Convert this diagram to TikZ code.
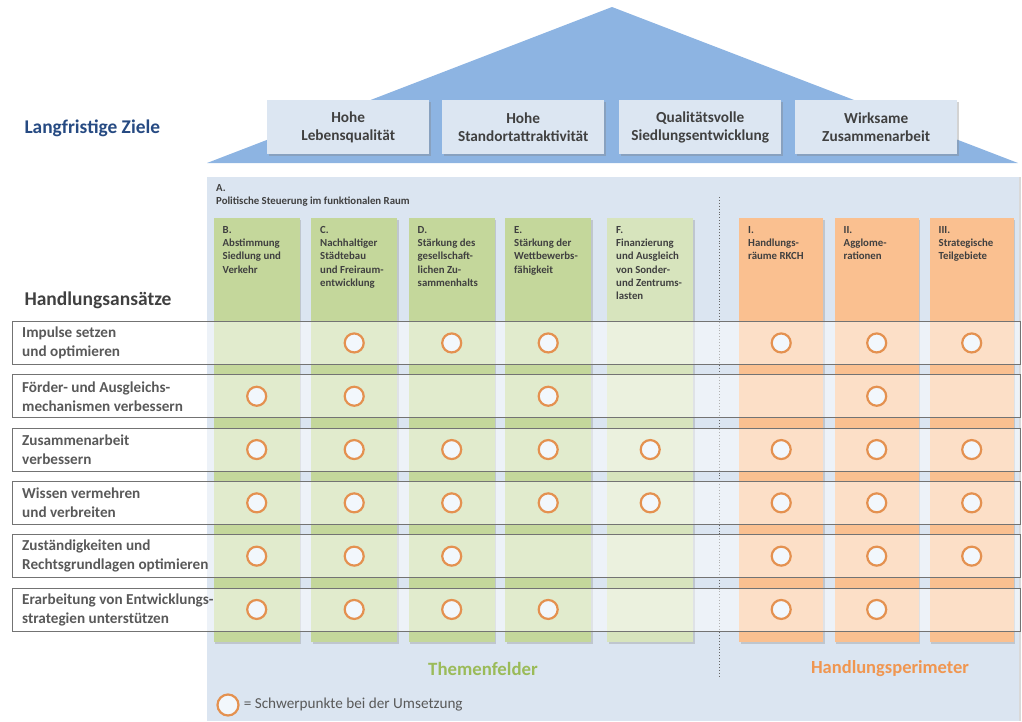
\documentclass[tikz,border=0pt]{standalone}
\usepackage{fontspec}
\setmainfont{Carlito}
\usepackage{xcolor}
\usetikzlibrary{shadows,positioning}

\definecolor{roofblue}{RGB}{141,180,226}
\definecolor{goalfill}{RGB}{220,230,242}
\definecolor{panelblue}{RGB}{219,229,241}
\definecolor{greenhead}{RGB}{196,215,155}
\definecolor{greenlight}{RGB}{215,228,189}
\definecolor{orangehead}{RGB}{250,192,144}
\definecolor{ringorange}{RGB}{228,145,80}
\definecolor{textgrey}{RGB}{64,64,64}
\definecolor{rowgrey}{RGB}{89,89,89}
\definecolor{titleblue}{RGB}{38,74,130}
\definecolor{themagreen}{RGB}{155,187,89}
\definecolor{perimorange}{RGB}{240,150,80}

\tikzset{
	goalbox/.style={anchor=north west, fill=goalfill, minimum width=162pt, minimum height=54pt,
		align=center, text=textgrey, font=\fontsize{15.3}{18}\selectfont\bfseries,
		drop shadow={opacity=0.35, shadow xshift=2pt, shadow yshift=-2pt}},
	colbox/.style={anchor=north west, minimum height=424pt, inner sep=0pt,
		drop shadow={opacity=0.3, shadow xshift=1.5pt, shadow yshift=-1.5pt}},
	colhead/.style={anchor=north west, align=left, inner sep=0pt, text=textgrey,
		font=\fontsize{10.8}{13.3}\selectfont\bfseries},
	rowbox/.style={anchor=north west, draw=gray!90!black, line width=0.9pt, fill=white, fill opacity=0.5,
		minimum width=1008pt, minimum height=43pt, inner sep=0pt},
	rowlabel/.style={anchor=west, align=left, inner sep=0pt, text=rowgrey,
		font=\fontsize{15.2}{19}\selectfont\bfseries},
	ringmark/.style={circle, draw=ringorange, line width=2.2pt, fill={rgb,255:red,242;green,247;blue,252},
		minimum size=19pt, inner sep=0pt}
}

\begin{document}
\begin{tikzpicture}[x=1pt,y=-1pt]
	\useasboundingbox (0,0) rectangle (1022,721);

	% roof and goals
	\fill[roofblue] (207,163) -- (612,7) -- (1018,163) -- cycle;
	\node[text=titleblue, anchor=west, font=\fontsize{19.4}{22}\selectfont\bfseries] (ziele) at (21,128) {Langfristige Ziele};
	\node[goalbox] (goal1) at (267,100) {Hohe\\Lebensqualität};
	\node[goalbox] (goal2) at (442,100) {Hohe\\Standortattraktivität};
	\node[goalbox] (goal3) at (619,100) {Qualitätsvolle\\Siedlungsentwicklung};
	\node[goalbox] (goal4) at (795,100) {Wirksame\\Zusammenarbeit};

	% panel
	\fill[panelblue, drop shadow={opacity=0.3, shadow xshift=1.5pt, shadow yshift=0pt}] (207,177) rectangle (1019,721);
	\node[colhead] (polA) at (216,184) {A.\\Politische Steuerung im funktionalen Raum};
	\draw[dotted, line width=0.9pt, gray!80!black] (719,197) -- (719,677);

	% columns
	\node[colbox, fill=greenhead, minimum width=86pt] (colB) at (213.5,218) {};
	\node[colbox, fill=greenhead, minimum width=86pt] (colC) at (311,218) {};
	\node[colbox, fill=greenhead, minimum width=86pt] (colD) at (408.5,218) {};
	\node[colbox, fill=greenhead, minimum width=86pt] (colE) at (505,218) {};
	\node[colbox, fill=greenlight, minimum width=86pt] (colF) at (607,218) {};
	\node[colbox, fill=orangehead, minimum width=84pt] (colI) at (739,218) {};
	\node[colbox, fill=orangehead, minimum width=84pt] (colII) at (834.5,218) {};
	\node[colbox, fill=orangehead, minimum width=84pt] (colIII) at (929.5,218) {};

	\node[colhead] (headB) at ([shift={(9,8)}]colB.north west) {B.\\Abstimmung\\Siedlung und\\Verkehr};
	\node[colhead] (headC) at ([shift={(9,8)}]colC.north west) {C.\\Nachhaltiger\\Städtebau\\und Freiraum-\\entwicklung};
	\node[colhead] (headD) at ([shift={(9,8)}]colD.north west) {D.\\Stärkung des\\gesellschaft-\\lichen Zu-\\sammenhalts};
	\node[colhead] (headE) at ([shift={(9,8)}]colE.north west) {E.\\Stärkung der\\Wettbewerbs-\\fähigkeit};
	\node[colhead] (headF) at ([shift={(9,8)}]colF.north west) {F.\\Finanzierung\\und Ausgleich\\von Sonder-\\und Zentrums-\\lasten};
	\node[colhead] (headI) at ([shift={(9,8)}]colI.north west) {I.\\Handlungs-\\räume RKCH};
	\node[colhead] (headII) at ([shift={(9,8)}]colII.north west) {II.\\Agglome-\\rationen};
	\node[colhead] (headIII) at ([shift={(9,8)}]colIII.north west) {III.\\Strategische\\Teilgebiete};

	% rows
	\node[text=textgrey, anchor=west, font=\fontsize{19.5}{22}\selectfont\bfseries] (ansaetze) at (21,300) {Handlungsansätze};
	\node[rowbox] (row1) at (12,321) {};
	\node[rowbox] (row2) at (12,374.3) {};
	\node[rowbox] (row3) at (12,427.6) {};
	\node[rowbox] (row4) at (12,480.9) {};
	\node[rowbox] (row5) at (12,534.2) {};
	\node[rowbox] (row6) at (12,587.5) {};
	\node[rowlabel] (lab1) at ([xshift=10pt]row1.west) {Impulse setzen\\und optimieren};
	\node[rowlabel] (lab2) at ([xshift=10pt]row2.west) {Förder- und Ausgleichs-\\mechanismen verbessern};
	\node[rowlabel] (lab3) at ([xshift=10pt]row3.west) {Zusammenarbeit\\verbessern};
	\node[rowlabel] (lab4) at ([xshift=10pt]row4.west) {Wissen vermehren\\und verbreiten};
	\node[rowlabel] (lab5) at ([xshift=10pt]row5.west) {Zuständigkeiten und\\Rechtsgrundlagen optimieren};
	\node[rowlabel] (lab6) at ([xshift=10pt]row6.west) {Erarbeitung von Entwicklungs-\\strategien unterstützen};

	% Schwerpunkte
	\foreach \r/\cols in {1/{C,D,E,I,II,III}, 2/{B,C,E,II}, 3/{B,C,D,E,F,I,II,III},
		4/{B,C,D,E,F,I,II,III}, 5/{B,C,D,I,II,III}, 6/{B,C,D,E,I,II}}
		\foreach \c in \cols
			\node[ringmark] (m\r\c) at (col\c.center |- row\r.center) {};

	\node[text=themagreen, font=\fontsize{18.8}{20}\selectfont\bfseries] (themen) at (483,669) {Themenfelder};
	\node[text=perimorange, font=\fontsize{18.5}{20}\selectfont\bfseries] (perim) at (890,669) {Handlungsperimeter};

	\node[ringmark, minimum size=21pt] (legmark) at (228,705) {};
	\node[right=4pt of legmark, inner sep=0pt, text=rowgrey, font=\fontsize{15.2}{17}\selectfont] (legtext) {= Schwerpunkte bei der Umsetzung};
\end{tikzpicture}
\end{document}
